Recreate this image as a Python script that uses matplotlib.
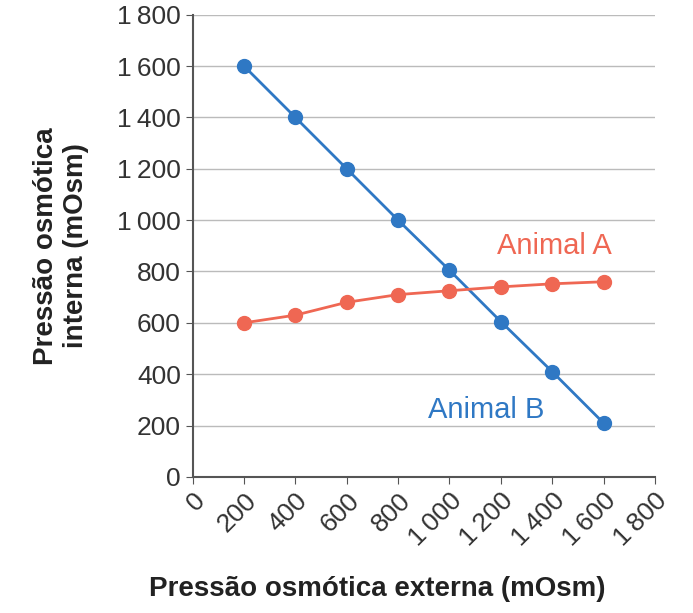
import matplotlib
matplotlib.use('Agg')
import matplotlib.pyplot as plt

# values
externa = [200, 400, 600, 800, 1000, 1200, 1400, 1600]
animal_a = [600, 630, 680, 710, 725, 740, 752, 760]
animal_b = [1600, 1400, 1200, 1000, 805, 605, 410, 210]
ticks = [0, 200, 400, 600, 800, 1000, 1200, 1400, 1600, 1800]
tick_labels = ['0', '200', '400', '600', '800', '1\u2009000', '1\u2009200', '1\u2009400', '1\u2009600', '1\u2009800']

plt.rcParams['font.family'] = ['Liberation Sans', 'DejaVu Sans']
fig = plt.figure(figsize=(6.93, 6.13), dpi=100)
ax = fig.add_axes([0.278, 0.222, 0.667, 0.754])

blue = '#2f78c4'
red = '#ef6753'
ax.plot(externa, animal_b, color=blue, lw=2, marker='o', ms=10, zorder=3)
ax.plot(externa, animal_a, color=red, lw=2, marker='o', ms=10, zorder=3)
ax.text(1410, 900, 'Animal A', color=red, fontsize=21, ha='center', va='center')
ax.text(1145, 260, 'Animal B', color=blue, fontsize=21, ha='center', va='center')

ax.set_xlim(0, 1800)
ax.set_ylim(0, 1800)
ax.set_xticks(ticks)
ax.set_xticklabels(tick_labels, rotation=45, ha='right', rotation_mode='anchor', fontsize=19, color='#333333')
ax.set_yticks(ticks)
ax.set_yticklabels(tick_labels, fontsize=19, color='#333333')
ax.grid(axis='y', color='#bbbbbb', lw=1)
ax.set_axisbelow(True)
for s in ['top', 'right']:
    ax.spines[s].set_visible(False)
for s in ['left', 'bottom']:
    ax.spines[s].set_color('#555555')
    ax.spines[s].set_linewidth(1.5)
ax.tick_params(length=5, color='#555555')

ax.set_xlabel('Pressão osmótica externa (mOsm)', fontsize=20, fontweight='bold', color='#222222', labelpad=14)
ax.xaxis.set_label_coords(0.4, -0.215)
ax.set_ylabel('Pressão osmótica\ninterna (mOsm)', fontsize=20, fontweight='bold', color='#222222', labelpad=20)

plt.savefig('out.png', dpi=100)
